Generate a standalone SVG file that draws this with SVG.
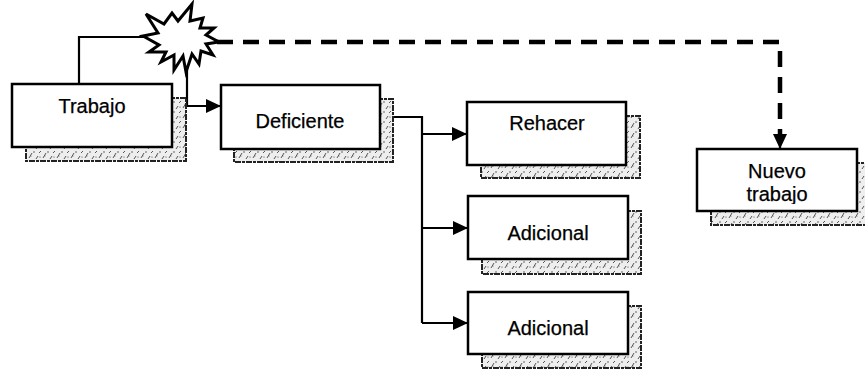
<svg xmlns="http://www.w3.org/2000/svg" width="865" height="369" viewBox="0 0 865 369">
  <defs>
    <style>
      .box { fill: #fff; stroke: #000; stroke-width: 2.5; }
      .shadow { fill: url(#grain); stroke: #222; stroke-width: 2; stroke-dasharray: 6 1 3 1; }
      .label { font-family: "Liberation Sans", Arial, sans-serif; font-size: 20px; fill: #000; stroke: #000; stroke-width: 0.25; text-anchor: middle; }
      .link { fill: none; stroke: #000; stroke-width: 2.2; }
      .dash { fill: none; stroke: #000; stroke-width: 4.5; stroke-dasharray: 16 10; }
    </style>
    <!-- speckled fill for the drop shadows -->
    <pattern id="grain" width="14" height="10" patternUnits="userSpaceOnUse">
      <rect width="14" height="10" fill="#eee"/>
      <path d="M1,8 L4,3 M8,9 L10,6 M11,3 L13,1" stroke="#555" stroke-width="1"/>
      <circle cx="6" cy="2" r="0.7" fill="#333"/>
      <circle cx="3" cy="6" r="0.6" fill="#666"/>
      <circle cx="12" cy="7" r="0.6" fill="#444"/>
    </pattern>
    <marker id="head" markerUnits="userSpaceOnUse" markerWidth="15" markerHeight="14" viewBox="0 0 15 14" refX="15" refY="7" orient="auto">
      <path d="M0,0 L15,7 L0,14 z" fill="#000"/>
    </marker>
    <clipPath id="nuevoClip">
      <rect x="697" y="149" width="160" height="55"/>
    </clipPath>
  </defs>

  <!-- connectors -->
  <g id="connectors">
    <path class="link" d="M79,84 V37 H150"/>
    <path class="link" d="M187,60 V106 H221" marker-end="url(#head)"/>
    <path class="link" d="M380,117 H422 V323"/>
    <path class="link" d="M422,134 H467" marker-end="url(#head)"/>
    <path class="link" d="M422,228 H468" marker-end="url(#head)"/>
    <path class="link" d="M422,323 H468" marker-end="url(#head)"/>
    <path class="dash" d="M217,42 H780 V134"/>
    <path class="link" d="M780,130 V149" marker-end="url(#head)"/>
  </g>

  <!-- triggering event -->
  <g id="evento">
    <polygon fill="#fff" stroke="#000" stroke-width="3" stroke-linejoin="miter"
      points="143,36 158,33 146,14 164,24 172,13 178,21 192,4 190,21 203,18 200,28 214,28 206,35 219,42 206,44 213,55 201,51 199,64 192,54 186,72 183,56 174,70 174,55 161,62 166,52 149,52 159,45"/>
  </g>

  <g id="trabajo">
    <rect class="shadow" x="26" y="98" width="160" height="63"/>
    <rect class="box" x="12" y="84" width="160" height="63"/>
    <text class="label" x="92" y="113">Trabajo</text>
  </g>

  <g id="deficiente">
    <rect class="shadow" x="234" y="99" width="159" height="63"/>
    <rect class="box" x="221" y="85" width="159" height="64"/>
    <text class="label" x="300" y="128">Deficiente</text>
  </g>

  <g id="rehacer">
    <rect class="shadow" x="481" y="116" width="159" height="62"/>
    <rect class="box" x="467" y="102" width="159" height="63"/>
    <text class="label" x="547" y="130">Rehacer</text>
  </g>

  <g id="adicional-1">
    <rect class="shadow" x="482" y="211" width="159" height="63"/>
    <rect class="box" x="468" y="196" width="160" height="63"/>
    <text class="label" x="548" y="240">Adicional</text>
  </g>

  <g id="adicional-2">
    <rect class="shadow" x="482" y="306" width="159" height="62"/>
    <rect class="box" x="468" y="292" width="160" height="62"/>
    <text class="label" x="548" y="335">Adicional</text>
  </g>

  <g id="nuevo-trabajo">
    <rect class="shadow" x="711" y="163" width="160" height="62"/>
    <rect class="box" x="697" y="149" width="160" height="62"/>
    <g clip-path="url(#nuevoClip)">
      <text class="label" x="777" y="178">Nuevo</text>
      <text class="label" x="777" y="201">trabajo</text>
    </g>
  </g>
</svg>
